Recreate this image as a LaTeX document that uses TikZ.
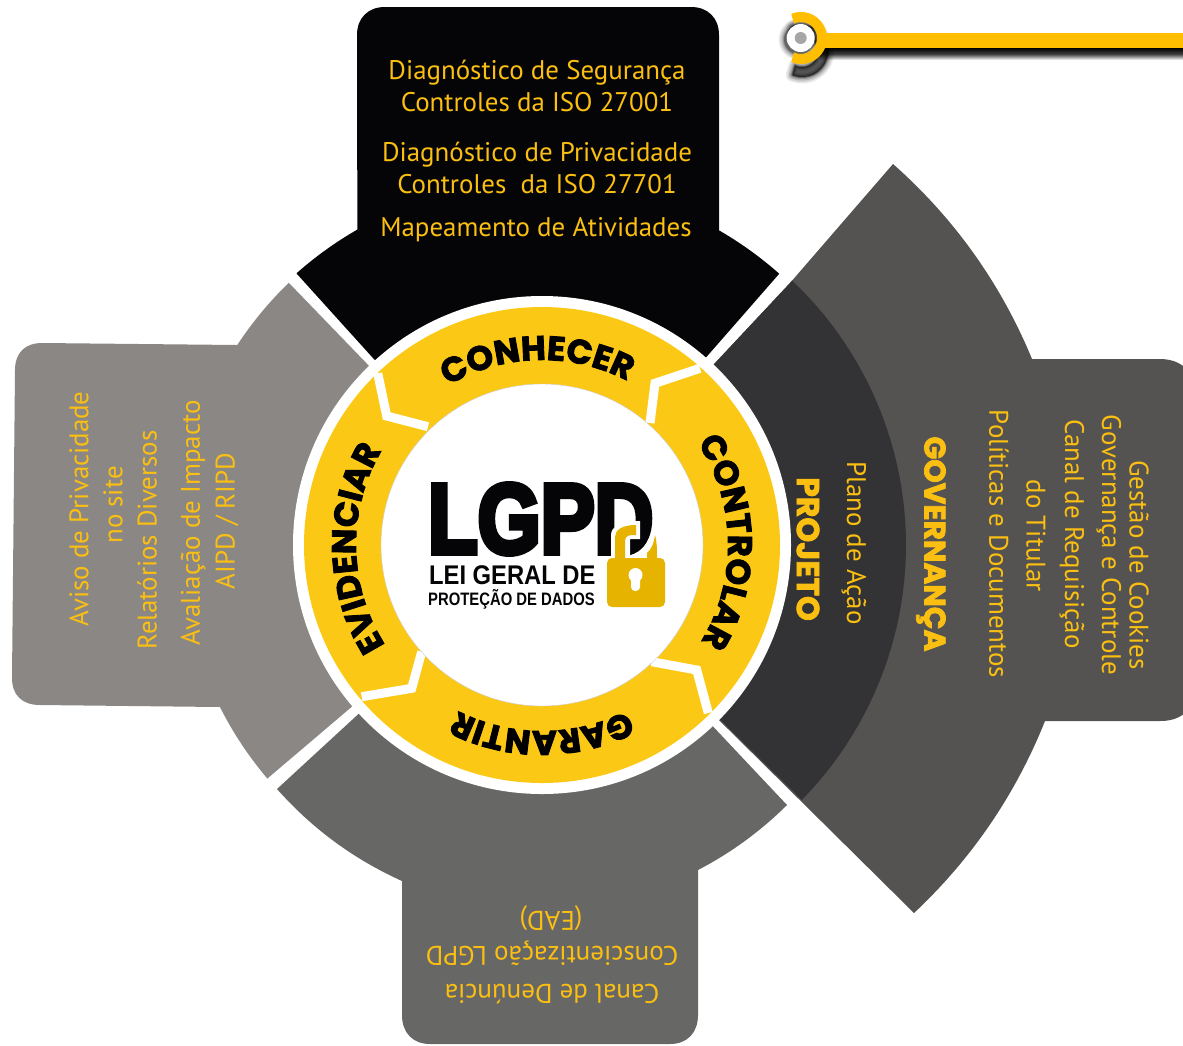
\documentclass[tikz,border=0pt]{standalone}
\usepackage{fontspec}
\setmainfont{PT Sans}
\newfontfamily\ringfont{Poppins}[BoldFeatures={FakeBold=2.5}]
\newfontfamily\logofont{Liberation Sans}[BoldFeatures={FakeBold=6}]
\newfontfamily\logosub{Liberation Sans}
\usetikzlibrary{decorations.text}
\definecolor{ringy}{HTML}{FCC816}
\definecolor{texty}{HTML}{FBBF12}
\definecolor{bary}{HTML}{FFBF00}
\definecolor{lockc}{HTML}{E6B400}
\definecolor{c0}{HTML}{050507}
\definecolor{c1}{HTML}{8A8785}
\definecolor{c2}{HTML}{676766}
\definecolor{c3}{HTML}{545351}
\definecolor{c4}{HTML}{333335}
\newcommand\arcat[5]{-- plot[domain=#4:#5,samples=50,variable=\t]({#1+#3*cos(\t)},{#2-#3*sin(\t)})}
\newcommand\pinring[2]{plot[domain=-112:112,samples=40,variable=\t]({#1+26*cos(\t)},{#2-26*sin(\t)}) -- plot[domain=116:-116,samples=40,variable=\t]({#1+16*cos(\t)},{#2-16*sin(\t)}) -- cycle}
\tikzset{
  body/.style={text=texty,font=\fontsize{26.9}{27}\selectfont,inner sep=0pt},
  strong/.style={body,font=\ringfont\bfseries\fontsize{29.8}{31}\selectfont},
  strongb/.style={body,font=\ringfont\bfseries\fontsize{31.5}{32}\selectfont},
  ringtext/.style={decorate,decoration={text along path,text align=center,
     text={|\ringfont\bfseries\fontsize{34}{34}\selectfont|#1}}},
  divider/.style={draw=white,line width=9pt,miter limit=10}
}
\begin{document}
\begin{tikzpicture}[x=1pt,y=-1pt]
\useasboundingbox (0,0) rectangle (1183,1045);
\coordinate (O) at (542,545);
% black top
\fill[c0] (O) -- (297,274) \arcat{538}{545}{363.5}{131.6}{119.8} -- (357,35)
  .. controls (357,18) and (368,7) .. (385,7) -- (691,7)
  .. controls (708,7) and (719,18) .. (719,35) -- (719,231)
  \arcat{538}{545}{363}{60.2}{48.4} -- (779,274) -- cycle;
% left
\fill[c1] (O) -- (289,283) \arcat{542}{545}{364.5}{134}{146.7} -- (237,345) -- (42,343)
  .. controls (25,343) and (15,353) .. (15,370) -- (12,678)
  .. controls (12,695) and (22,705) .. (40,705) -- (219,707)
  \arcat{542}{545}{360.5}{206.6}{220.4} -- (268,778) -- cycle;
% bottom
\fill[c2] (O) -- (277,789) .. controls (312.1,828.6) and (353.7,859.2) .. (402,881) -- (402,1015)
  .. controls (402,1033) and (413,1044) .. (430,1044) -- (670,1044)
  .. controls (687,1044) and (698,1033) .. (698,1015) -- (698,870)
  .. controls (731,852.8) and (760.6,831.2) .. (787,805) -- cycle;
% right outer
\fill[c3] (O) -- (716,362) -- (790,283) -- (893,164) .. controls (954.3,218.3) and (1000.7,283.3) .. (1032,359) -- (1160,359)
  .. controls (1175,359) and (1183,365) .. (1190,372) -- (1190,708)
  .. controls (1183,716) and (1175,721) .. (1160,721) -- (1045,721)
  .. controls (1015.5,794.6) and (971.9,858.6) .. (914,913) -- cycle;
% right inner
\fill[c4] (O) -- (716,362) -- (790,283) \arcat{542}{545}{364}{46.6}{-44.4} -- (802,800) -- cycle;
% ring
\fill[white] (O) circle[radius=249];
\fill[ringy] (O) circle[radius=238];
\draw[divider] (377.7,373.3) -- (386.7,416) -- (428,426.7);
\draw[divider] (700,368.3) -- (655,383.3) -- (650,423);
\draw[divider] (651.7,661.7) -- (696.7,670) -- (708.3,713);
\draw[divider] (361.7,696.7) -- (411.7,688.3) -- (421.7,651.7);
\filldraw[fill=white,draw=black!20,line width=.4pt] (O) circle[radius=161];
% ring labels
\begin{scope}[shift={(O)},x=1pt,y=1pt]
\path[ringtext=CONHECER] (134.5:185) arc[start angle=134.5,end angle=48.5,radius=185];
\path[ringtext=CONTROLAR] (42:186) arc[start angle=42,end angle=-40,radius=186];
\path[ringtext=GARANTIR] (-47:186) arc[start angle=-47,end angle=-133,radius=186];
\path[ringtext=EVIDENCIAR] (-136:186) arc[start angle=-136,end angle=-222,radius=186];
\end{scope}
% logo
\node[inner sep=0pt,anchor=base west,text=c0,font=\logofont\bfseries\fontsize{81}{81}\selectfont,yscale=1.22,transform shape] (lgpd) at (428,553) {LGPD};
\fill[white] (611,558) -- (611,535) .. controls (611,527) and (620,521) .. (640,521) -- (640,539) -- (630,539) -- (630,558) -- cycle;
\fill[lockc] (615,560) -- (615,537) .. controls (615,530) and (622,525) .. (636,525) -- (636,535) .. controls (630,535) and (625,535) .. (625,541) -- (625,560) -- cycle;
\fill[lockc] (647,560) -- (647,553) .. controls (652,549) and (654,542) .. (655,535) .. controls (657,542) and (657,548) .. (657,560) -- cycle;
\fill[lockc,rounded corners=5pt] (607,558) rectangle (665,607);
\fill[white] (635.5,575) circle[radius=7];
\fill[white,rounded corners=4pt] (631,575) rectangle (640,591);
\node[inner sep=0pt,anchor=base west,text=c0,font=\logosub\bfseries\fontsize{27}{27}\selectfont,xscale=.88,transform shape] (lei) at (429,584.5) {LEI GERAL DE};
\node[inner sep=0pt,anchor=base west,text=c0,font=\logosub\bfseries\fontsize{18}{18}\selectfont,xscale=.825,transform shape] (prot) at (428,605) {PROTEÇÃO DE DADOS};
% top text
\node[body] (t1) at (537,73) {Diagnóstico de Segurança};
\node[body] (t2) at (537,102) {Controles da ISO 27001};
\node[body] (t3) at (537,155) {Diagnóstico de Privacidade};
\node[body] (t4) at (537,184) {Controles\ \ da ISO 27701};
\node[body] (t5) at (536,230) {Mapeamento de Atividades};
% left text
\node[body,rotate=90] (l1) at (79,509) {Aviso de Privacidade};
\node[body,rotate=90] (l2) at (113,505) {no site};
\node[body,rotate=90] (l3) at (147,540) {Relatórios Diversos};
\node[body,rotate=90] (l4) at (193,523) {Avaliação de Impacto};
\node[body,rotate=90] (l5) at (227,521) {AIPD / RIPD};
% right text
\node[strongb,rotate=-90] (r1) at (808,549) {PROJETO};
\node[body,rotate=-90] (r2) at (854,543) {Plano de Ação};
\node[strong,rotate=-90] (r3) at (931,544) {GOVERNANÇA};
\node[body,rotate=-90] (r4) at (999,544) {Políticas e Documentos};
\node[body,rotate=-90] (r5) at (1036,536) {do Titular};
\node[body,rotate=-90] (r6) at (1072,534) {Canal de Requisição};
\node[body,rotate=-90] (r7) at (1109,545) {Governança e Controle};
\node[body,rotate=-90] (r8) at (1139,565) {Gestão de Cookies};
% bottom text
\node[body,rotate=180] (b1) at (552,994) {Canal de Denúncia};
\node[body,rotate=180] (b2) at (552,953) {Conscientização LGPD};
\node[body,rotate=180] (b3) at (551,918) {(EAD)};
% pin
\shade[top color=black,bottom color=white,middle color=black!75] (820,48) rectangle (1183,60);
\foreach \w/\o in {13/.08,10/.1,7/.14,4/.2,2/.3}{
  \fill[black,opacity=\o,draw=black,line width=\w pt,line join=round] \pinring{802}{51};
  \fill[black,opacity=\o] (799,39.5) circle[radius=14+.5*\w];
}
\fill[bary] (820,33) rectangle (1183,48);
\fill[bary] \pinring{801}{38};
\fill[white] (800.7,38) circle[radius=14];
\fill[black!35] (800.7,38) circle[radius=6];
\end{tikzpicture}
\end{document}
